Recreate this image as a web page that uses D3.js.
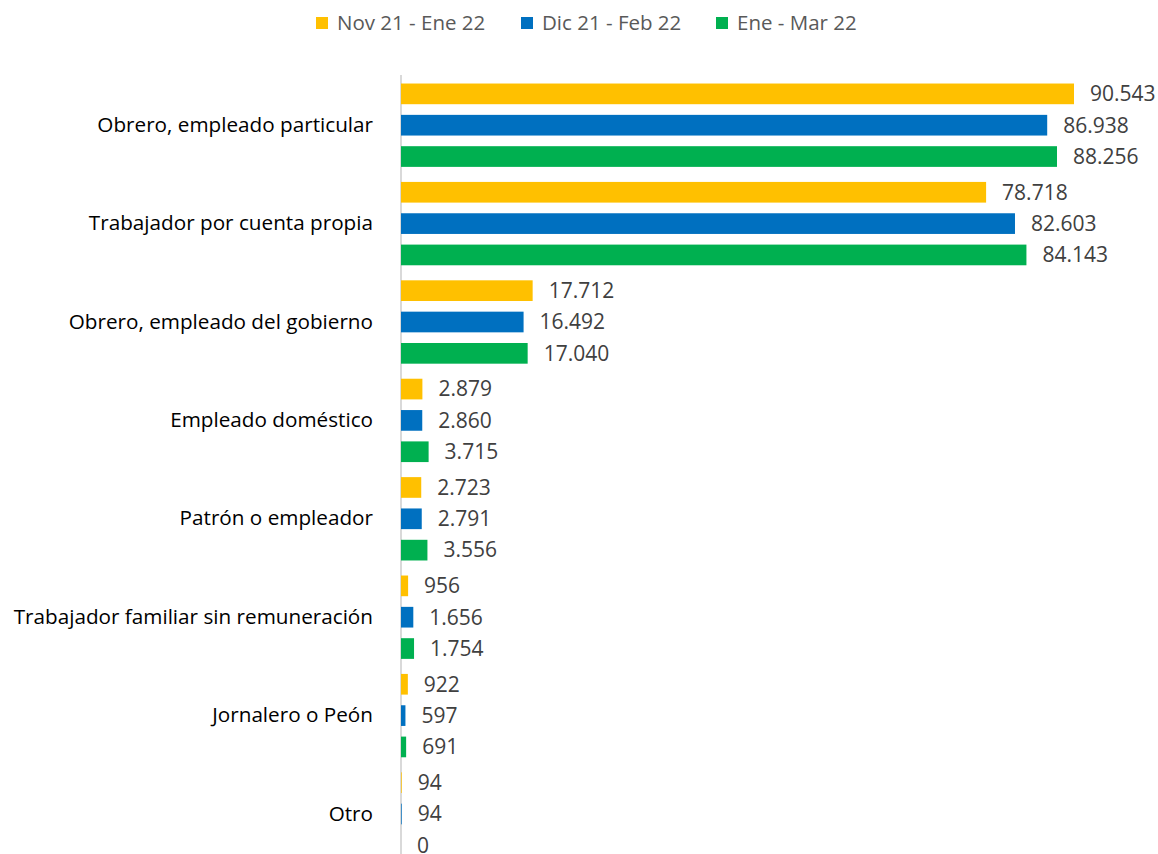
<!DOCTYPE html>
<html>
<head>
<meta charset="utf-8">
<script src="https://cdn.jsdelivr.net/npm/d3@7"></script>
<style>
  body { margin: 0; background: #fff; }
  svg { font-family: "Open Sans", "Liberation Sans", sans-serif; }
</style>
</head>
<body>
<svg id="chart" width="1158" height="854"></svg>
<script>
var categories = [
  "Obrero, empleado particular",
  "Trabajador por cuenta propia",
  "Obrero, empleado del gobierno",
  "Empleado doméstico",
  "Patrón o empleador",
  "Trabajador familiar sin remuneración",
  "Jornalero o Peón",
  "Otro"
]
var seriesNames = ["Nov 21 - Ene 22", "Dic 21 - Feb 22", "Ene - Mar 22"]
var seriesColors = ["#ffc000", "#0070c0", "#00b050"]
var novEne = [90543, 78718, 17712, 2879, 2723, 956, 922, 94]
var dicFeb = [86938, 82603, 16492, 2860, 2791, 1656, 597, 94]
var eneMar = [88256, 84143, 17040, 3715, 3556, 1754, 691, 0]
var seriesValues = [novEne, dicFeb, eneMar]

var dimensions = {
  width: 1158,
  height: 854,
  margin: { top: 76, bottom: 0, left: 401, right: 10 }
}

var es = d3.formatLocale({ decimal: ",", thousands: ".", grouping: [3], currency: ["$", ""] })
var fmt = es.format(",d")

var svg = d3.select("#chart")

var xScale = d3.scaleLinear()
  .domain([0, 90543])
  .range([dimensions.margin.left, 1074])

var yScale = d3.scaleBand()
  .domain(categories)
  .range([dimensions.margin.top, dimensions.margin.top + 8 * 98.4])
  .padding(0)

var inner = d3.scaleBand()
  .domain(d3.range(3))
  .range([0, yScale.bandwidth()])
  .paddingInner(0.34)
  .paddingOuter(0.24)

var rows = []
categories.forEach(function (c, i) {
  seriesValues.forEach(function (vals, s) {
    rows.push({ cat: c, s: s, value: vals[i] })
  })
})

// axis line first so bars sit over it
svg.append("line")
  .attr("x1", dimensions.margin.left)
  .attr("x2", dimensions.margin.left)
  .attr("y1", 75)
  .attr("y2", dimensions.height)
  .attr("stroke", "#d9d9d9")
  .attr("stroke-width", 2)

var groups = svg.append("g")

groups.selectAll("rect")
  .data(rows)
  .enter()
  .append("rect")
  .attr("x", xScale(0))
  .attr("y", d => yScale(d.cat) + inner(d.s))
  .attr("width", d => xScale(d.value) - xScale(0))
  .attr("height", inner.bandwidth())
  .attr("fill", d => seriesColors[d.s])

groups.selectAll("text.val")
  .data(rows)
  .enter()
  .append("text")
  .attr("class", "val")
  .attr("x", d => xScale(d.value) + 16)
  .attr("y", d => yScale(d.cat) + inner(d.s) + inner.bandwidth() / 2)
  .attr("dy", "0.35em")
  .attr("fill", "#404040")
  .style("font-size", "21px")
  .text(d => fmt(d.value))

// category labels
var yAxis = svg.append("g")
  .attr("transform", `translate(${dimensions.margin.left},0)`)
  .call(d3.axisLeft(yScale).tickSize(0).tickPadding(28))

yAxis.select(".domain").remove()
yAxis.selectAll("text")
  .attr("fill", "#000")
  .style("font-size", "20.7px")
  .style("font-family", "'Open Sans', sans-serif")

// legend
var legendX = [316, 521, 716]
var legend = svg.append("g")
seriesNames.forEach(function (name, i) {
  legend.append("rect")
    .attr("x", legendX[i])
    .attr("y", 17)
    .attr("width", 12)
    .attr("height", 12)
    .attr("fill", seriesColors[i])
  legend.append("text")
    .attr("x", legendX[i] + 21)
    .attr("y", 23)
    .attr("dy", "0.35em")
    .attr("fill", "#595959")
    .style("font-size", "20.5px")
    .text(name)
})
</script>
</body>
</html>
